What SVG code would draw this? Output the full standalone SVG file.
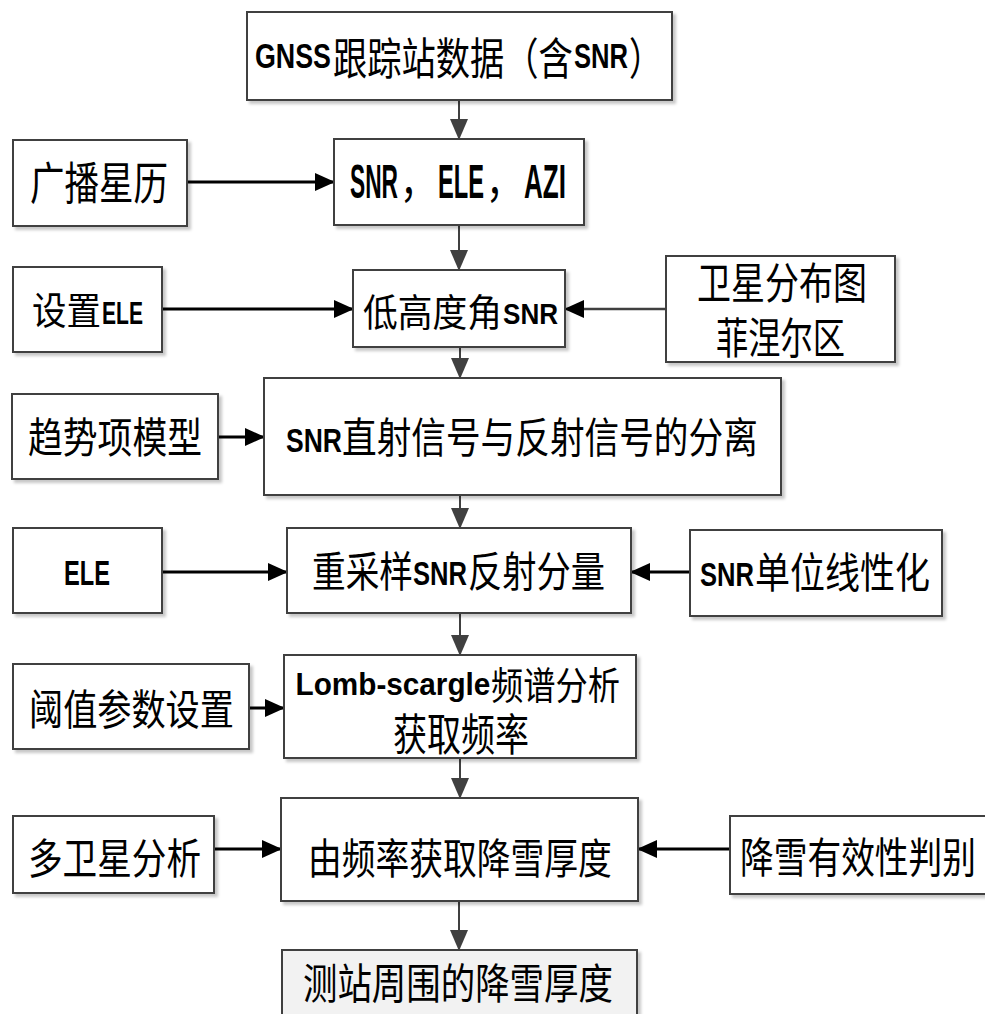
<svg xmlns="http://www.w3.org/2000/svg" width="985" height="1014" viewBox="0 0 985 1014">
<defs>
<style>
.box{fill:#fff;stroke:#404040;stroke-width:2;filter:url(#sh)}
.boxg{fill:#f2f2f2;stroke:#404040;stroke-width:2;filter:url(#sh)}
text{fill:#000;font-family:"Noto Sans CJK SC",sans-serif;font-weight:400}
.lat{font-family:"Liberation Sans",Arial,sans-serif;font-weight:700}
.hk{stroke:#000;stroke-width:3;fill:none;marker-end:url(#ak)}
.vg{stroke:#404040;stroke-width:2;fill:none;marker-end:url(#ag)}
</style>
<filter id="sh" x="-10%" y="-10%" width="130%" height="130%">
<feDropShadow dx="3" dy="3" stdDeviation="1.5" flood-color="#000" flood-opacity="0.22"/>
</filter>
<marker id="ak" markerUnits="userSpaceOnUse" markerWidth="20" markerHeight="18" refX="19" refY="9" orient="auto">
<path d="M0,0 L20,9 L0,18 Z" fill="#000"/>
</marker>
<marker id="ag" markerUnits="userSpaceOnUse" markerWidth="21" markerHeight="18" refX="20" refY="9" orient="auto">
<path d="M0,0 L21,9 L0,18 Z" fill="#404040"/>
</marker>
</defs>

<g id="connectors">
<line class="vg" x1="459" y1="101" x2="459" y2="139"/>
<line class="hk" x1="187" y1="182" x2="334" y2="182"/>
<line class="vg" x1="459" y1="226" x2="459" y2="270"/>
<line class="hk" x1="162" y1="309" x2="353" y2="309"/>
<line class="hk" x1="666" y1="309" x2="565" y2="309" style="stroke:#404040;stroke-width:2.5"/>
<line class="vg" x1="460" y1="348" x2="460" y2="378"/>
<line class="hk" x1="218" y1="437" x2="264" y2="437"/>
<line class="vg" x1="460" y1="496" x2="460" y2="528"/>
<line class="hk" x1="162" y1="572" x2="287" y2="572"/>
<line class="hk" x1="690" y1="572" x2="631" y2="572"/>
<line class="vg" x1="460" y1="614" x2="460" y2="655"/>
<line class="hk" x1="249" y1="708" x2="284" y2="708"/>
<line class="vg" x1="460" y1="759" x2="460" y2="798"/>
<line class="hk" x1="214" y1="849" x2="281" y2="849"/>
<line class="hk" x1="730" y1="849" x2="638" y2="849"/>
<line class="vg" x1="459" y1="902" x2="459" y2="950"/>
</g>

<g id="n-gnss">
<rect class="box" x="247" y="12" width="425" height="88"/>
<text class="lat" font-size="35" transform="matrix(0.766 0 0 1 255 68)">GNSS</text>
<text font-size="44" transform="matrix(0.779 0 0 1 333 75)">跟踪站数据（含</text>
<text class="lat" font-size="35" transform="matrix(0.731 0 0 1 574 68)">SNR</text>
<text font-size="44" transform="matrix(0.75 0 0 1 629 75)">）</text>
</g>

<g id="n-ephemeris">
<rect class="box" x="13" y="140" width="174" height="86"/>
<text font-size="45" transform="matrix(0.767 0 0 1 30 199.5)">广播星历</text>
</g>

<g id="n-snr-ele-azi">
<rect class="box" x="334" y="139" width="250" height="86"/>
<text class="lat" font-size="48" transform="matrix(0.474 0 0 1 350 198)">SNR</text>
<text font-size="45" transform="matrix(0.8 0 0 1 400 198)">，</text>
<text class="lat" font-size="48" transform="matrix(0.493 0 0 1 438 198)">ELE</text>
<text font-size="45" transform="matrix(0.8 0 0 1 486 198)">，</text>
<text class="lat" font-size="48" transform="matrix(0.543 0 0 1 524 198)">AZI</text>
</g>

<g id="n-set-ele">
<rect class="box" x="13" y="267" width="149" height="85"/>
<text font-size="38" transform="matrix(0.908 0 0 1 32 323.5)">设置</text>
<text class="lat" font-size="31" transform="matrix(0.68 0 0 1 102 324)">ELE</text>
</g>

<g id="n-low-ele">
<rect class="box" x="353" y="270" width="212" height="77"/>
<text font-size="38" transform="matrix(0.914 0 0 1 363 325.5)">低高度角</text>
<text class="lat" font-size="30" transform="matrix(0.869 0 0 1 503 323.5)">SNR</text>
</g>

<g id="n-fresnel">
<rect class="box" x="666" y="256" width="229" height="106"/>
<text font-size="43" transform="matrix(0.791 0 0 1 697 299)">卫星分布图</text>
<text font-size="43" transform="matrix(0.75 0 0 1 716 354)">菲涅尔区</text>
</g>

<g id="n-trend">
<rect class="box" x="12" y="394" width="206" height="85"/>
<text font-size="42" transform="matrix(0.829 0 0 1 28 452.5)">趋势项模型</text>
</g>

<g id="n-separate">
<rect class="box" x="264" y="378" width="517" height="117"/>
<text class="lat" font-size="33" transform="matrix(0.804 0 0 1 286 452)">SNR</text>
<text font-size="42" transform="matrix(0.825 0 0 1 342 453)">直射信号与反射信号的分离</text>
</g>

<g id="n-ele">
<rect class="box" x="13" y="528" width="149" height="85"/>
<text class="lat" font-size="35" transform="matrix(0.676 0 0 1 64 585)">ELE</text>
</g>

<g id="n-resample">
<rect class="box" x="287" y="528" width="344" height="85"/>
<text font-size="42" transform="matrix(0.802 0 0 1 312 587)">重采样</text>
<text class="lat" font-size="33" transform="matrix(0.775 0 0 1 413 585)">SNR</text>
<text font-size="42" transform="matrix(0.815 0 0 1 468 587)">反射分量</text>
</g>

<g id="n-linearize">
<rect class="box" x="690" y="530" width="252" height="86"/>
<text class="lat" font-size="33" transform="matrix(0.775 0 0 1 700 586)">SNR</text>
<text font-size="42" transform="matrix(0.833 0 0 1 755 588)">单位线性化</text>
</g>

<g id="n-threshold">
<rect class="box" x="13" y="664" width="236" height="85"/>
<text font-size="42" transform="matrix(0.813 0 0 1 29 724.5)">阈值参数设置</text>
</g>

<g id="n-lomb">
<rect class="box" x="284" y="655" width="352" height="103"/>
<text class="lat" font-size="32" transform="matrix(0.929 0 0 1 295.5 695)">Lomb-scargle</text>
<text font-size="38" transform="matrix(0.849 0 0 1 491 698.5)">频谱分析</text>
<text font-size="44" transform="matrix(0.773 0 0 1 393 750.5)">获取频率</text>
</g>

<g id="n-multisat">
<rect class="box" x="13" y="816" width="201" height="77"/>
<text font-size="42" transform="matrix(0.824 0 0 1 28 873.5)">多卫星分析</text>
</g>

<g id="n-depth">
<rect class="box" x="281" y="798" width="357" height="103"/>
<text font-size="42" transform="matrix(0.804 0 0 1 308 874)">由频率获取降雪厚度</text>
</g>

<g id="n-valid">
<rect class="box" x="730" y="816" width="262" height="78"/>
<text font-size="42" transform="matrix(0.803 0 0 1 740 873)">降雪有效性判别</text>
</g>

<g id="n-result">
<rect class="boxg" x="282" y="950" width="355" height="72"/>
<text font-size="42" transform="matrix(0.82 0 0 1 303 999)">测站周围的降雪厚度</text>
</g>
</svg>
